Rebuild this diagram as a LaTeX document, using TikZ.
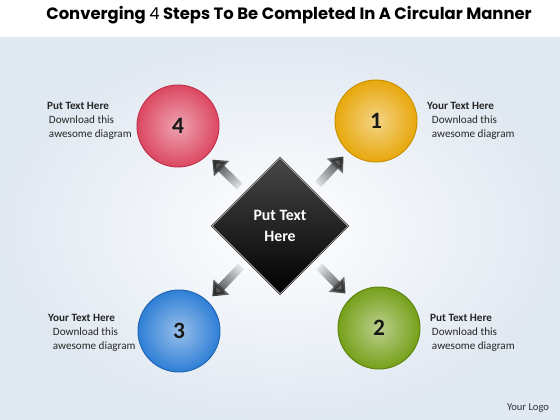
\documentclass[tikz,border=0pt]{standalone}
\usepackage{fontspec}
\setmainfont{Carlito}
\newfontfamily\titlefont{Poppins}
\usetikzlibrary{shapes.geometric,arrows.meta,fadings}

\definecolor{bgblue}{HTML}{E0E8F1}
\definecolor{redball}{HTML}{DC4862}
\definecolor{redrim}{HTML}{C0304A}
\definecolor{yellowball}{HTML}{E8A80C}
\definecolor{yellowrim}{HTML}{C89000}
\definecolor{blueball}{HTML}{2F7FD6}
\definecolor{bluerim}{HTML}{2064B0}
\definecolor{greenball}{HTML}{76A01A}
\definecolor{greenrim}{HTML}{5C8410}

\tikzset{
  ball/.style 2 args={shape=circle, minimum size=2.46cm, inner sep=0pt, draw=#2, line width=0.8pt,
    inner color=#1!50!white, outer color=#1, text=black!90, font=\fontsize{20}{24}\selectfont\bfseries},
  note/.style={anchor=north west, inner sep=0pt, align=left, text=black!85, font=\fontsize{9.5}{12}\selectfont},
  arrow/.style={-{Triangle[length=11pt,width=18pt]}, line width=7pt, black!85,
    shorten <=0.24cm, shorten >=0.2cm, path fading=west},
}

\begin{document}
\begin{tikzpicture}[x=0.03cm, y=-0.03cm]
		\useasboundingbox (0,0) rectangle (560,420);
		\fill[white] (0,0) rectangle (560,420);
		\shade[inner color=white, outer color=bgblue] (0,37) rectangle (560,420);
		
		\node[font=\titlefont\bfseries\fontsize{14}{16}\selectfont] (T) at (289,15) {Converging {\mdseries 4} Steps To Be Completed In A Circular Manner};
		
		\node[shape=diamond, minimum width=4.08cm, minimum height=4.08cm, inner sep=0pt,
		  top color=black!72, bottom color=black, draw=black, double=gray!70, double distance=0.8pt,
		  align=center, text=white, font=\fontsize{13.5}{18}\selectfont\bfseries] (D) at (280,226) {Put Text\\Here};
		
		\node[ball={yellowball}{yellowrim}] (S1) at (376,121) {1};
		\node[ball={greenball}{greenrim}] (S2) at (379,328) {2};
		\node[ball={blueball}{bluerim}] (S3) at (179,331) {3};
		\node[ball={redball}{redrim}] (S4) at (178,126) {4};
		
		\path (D) edge[arrow, fading angle=45] (S1);
		\path (D) edge[arrow, fading angle=-45] (S2);
		\path (D) edge[arrow, fading angle=225] (S3);
		\path (D) edge[arrow, fading angle=135] (S4);
		
		\node[note] (N4) at (47,102) {\textbf{Put Text Here}\\\hspace*{1.5pt}Download this\\\hspace*{1.5pt}awesome diagram};
		\node[note] (N1) at (427,102) {\textbf{Your Text Here}\\\hspace*{4pt}Download this\\\hspace*{4pt}awesome diagram};
		\node[note] (N3) at (48,314) {\textbf{Your Text Here}\\\hspace*{4pt}Download this\\\hspace*{4pt}awesome diagram};
		\node[note] (N2) at (430,314) {\textbf{Put Text Here}\\\hspace*{1.5pt}Download this\\\hspace*{1.5pt}awesome diagram};
		
		\node[text=black!80, font=\fontsize{9}{11}\selectfont] (L) at (528,408) {Your Logo};
\end{tikzpicture}
\end{document}
